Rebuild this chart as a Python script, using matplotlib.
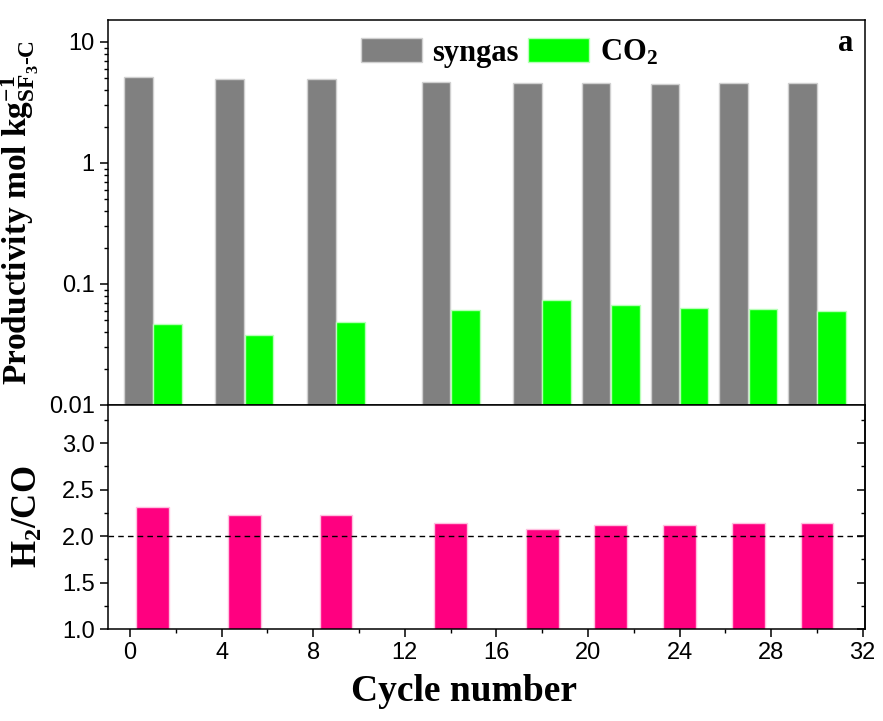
import numpy as np
import matplotlib.pyplot as plt
from matplotlib.ticker import MultipleLocator, LogLocator, FixedFormatter, FixedLocator, NullFormatter

plt.rcParams['font.family'] = ['Liberation Sans', 'DejaVu Sans']
plt.rcParams['mathtext.fontset'] = 'custom'
plt.rcParams['mathtext.rm'] = 'Liberation Serif:bold'
plt.rcParams['mathtext.it'] = 'Liberation Serif:bold'
plt.rcParams['mathtext.bf'] = 'Liberation Serif:bold'
plt.rcParams['axes.linewidth'] = 1.1

# cycle positions and values
cycles = [1, 5, 9, 14, 18, 21, 24, 27, 30]
syngas = [5.10, 4.98, 4.92, 4.64, 4.56, 4.56, 4.53, 4.58, 4.58]
co2 = [0.047, 0.0377, 0.0482, 0.0606, 0.0742, 0.067, 0.0637, 0.0621, 0.0602]
h2_co = [2.31, 2.23, 2.23, 2.14, 2.08, 2.12, 2.12, 2.14, 2.14]

x = np.array(cycles, dtype=float)
w = 1.25
off = 0.64

fig = plt.figure(figsize=(8.83, 7.21), dpi=100)
ax1 = fig.add_axes([0.1223, 0.4383, 0.8573, 0.5340])
ax2 = fig.add_axes([0.1223, 0.1276, 0.8573, 0.3107], sharex=ax1)

serif = 'Liberation Serif'

# top panel: productivity
ax1.bar(x - off, syngas, width=w, color='#808080', edgecolor='#d0d0d0', linewidth=1, label='syngas')
ax1.bar(x + off, co2, width=w, color='#00ff00', edgecolor='#b8ffb8', linewidth=1, label='CO$_2$')
ax1.set_yscale('log')
ax1.set_ylim(0.01, 15.2)
ax1.set_xlim(-0.96, 32.1)
ax1.yaxis.set_major_locator(FixedLocator([0.01, 0.1, 1, 10]))
ax1.yaxis.set_major_formatter(FixedFormatter(['0.01', '0.1', '1', '10']))
ax1.yaxis.set_minor_locator(LogLocator(base=10, subs=np.arange(2, 10)))
ax1.tick_params(axis='y', which='major', direction='out', length=6, width=1.1, labelsize=17)
ax1.tick_params(axis='y', which='minor', direction='out', length=3, width=1)
ax1.tick_params(axis='x', which='both', direction='out', length=3, labelbottom=False)
ax1.set_ylabel(r'Productivity mol kg$^{\mathrm{-1}}_{\mathrm{SF_3\text{-}C}}$', fontsize=24,
               fontweight='bold', family=serif, labelpad=6)
ax1.legend(loc='upper center', bbox_to_anchor=(0.53, 1.0), ncol=2, frameon=False,
           prop={'family': serif, 'weight': 'bold', 'size': 22},
           handlelength=2.0, handleheight=0.8, columnspacing=0.3, handletextpad=0.35,
           borderaxespad=0.2)
ax1.text(0.985, 0.94, 'a', transform=ax1.transAxes, ha='right', va='center',
         fontsize=22, fontweight='bold', family=serif)

# bottom panel: H2/CO ratio
ax2.bar(x, h2_co, width=1.43, color='#ff0080', edgecolor='#ffc0e0', linewidth=1)
ax2.axhline(2.0, color='black', linestyle='--', linewidth=1, dashes=(4, 3))
ax2.set_ylim(1.0, 3.41)
ax2.yaxis.set_major_locator(MultipleLocator(0.5))
ax2.yaxis.set_minor_locator(MultipleLocator(0.25))
ax2.xaxis.set_major_locator(MultipleLocator(4))
ax2.xaxis.set_minor_locator(MultipleLocator(2))
ax2.yaxis.set_major_formatter(plt.FormatStrFormatter('%.1f'))
ax2.tick_params(axis='both', which='major', direction='out', length=6, width=1.1, labelsize=17)
ax2.tick_params(axis='both', which='minor', direction='out', length=3, width=1)

# inward ticks on the right spine
ax2r = ax2.secondary_yaxis('right')
ax2r.yaxis.set_major_locator(MultipleLocator(0.5))
ax2r.yaxis.set_minor_locator(MultipleLocator(0.25))
ax2r.yaxis.set_major_formatter(NullFormatter())
ax2r.tick_params(which='major', direction='in', length=6, width=1.1)
ax2r.tick_params(which='minor', direction='in', length=3, width=1)

ax2.set_ylabel(r'H$_2$/CO', fontsize=25, fontweight='bold', family=serif, labelpad=12)
ax2.set_xlabel('Cycle number', fontsize=27, fontweight='bold', family=serif, labelpad=10)
ax2.xaxis.set_label_coords(0.47, -0.2)

fig.savefig('out.png', dpi=100)
